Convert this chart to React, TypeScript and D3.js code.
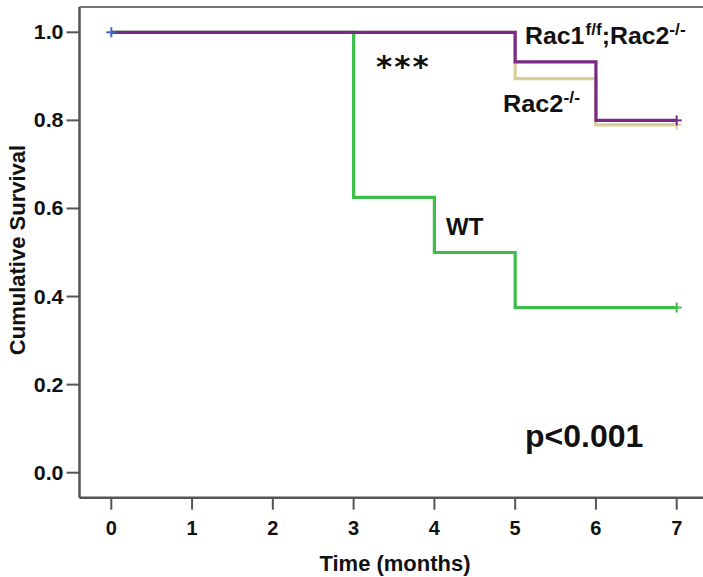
import React from "react";
import * as d3 from "d3";

const xTicks = [0, 1, 2, 3, 4, 5, 6, 7];
const yTicks = [0.0, 0.2, 0.4, 0.6, 0.8, 1.0];

const tanTimes = [0, 5, 6, 7];
const tanSurv = [1.0, 0.895, 0.79, 0.79];
const purpleTimes = [0, 5, 6, 7];
const purpleSurv = [1.0, 0.933, 0.8, 0.8];
const greenTimes = [0, 3, 4, 5, 7];
const greenSurv = [1.0, 0.625, 0.5, 0.375, 0.375];

const W = 703;
const H = 577;

export default function App() {
  const x = d3.scaleLinear().domain([0, 7]).range([111.3, 676.7]);
  const y = d3.scaleLinear().domain([0, 1]).range([472.7, 32.3]);
  const line = d3
    .line<[number, number]>()
    .x((d) => x(d[0]))
    .y((d) => y(d[1]))
    .curve(d3.curveStepAfter);
  const mk = (t: number[], s: number[]) => t.map((v, i) => [v, s[i]] as [number, number]);
  const series = [
    { t: tanTimes, s: tanSurv, c: "#D6CF99" },
    { t: greenTimes, s: greenSurv, c: "#3DBE4B" },
    { t: purpleTimes, s: purpleSurv, c: "#7A2A86" },
  ];
  const font = "'Liberation Sans', Arial, sans-serif";
  const axisColor = "#555";
  const left = 79.5;
  const bottom = 497.7;
  const top = 7;
  const cross = (cx: number, cy: number, c: string) => (
    <g stroke={c} strokeWidth={2}>
      <line x1={cx - 5} x2={cx + 5} y1={cy} y2={cy} />
      <line x1={cx} x2={cx} y1={cy - 5} y2={cy + 5} />
    </g>
  );
  return (
    <svg
      width={W}
      height={H}
      style={{ position: "absolute", left: 0, top: 0, background: "#fff" }}
      fontFamily={font}
    >
      <rect width={W} height={H} fill="#fff" />
      <line x1={left} x2={W} y1={top} y2={top} stroke="#777" strokeWidth={2} />
      <line x1={left} x2={left} y1={top} y2={bottom} stroke={axisColor} strokeWidth={2.5} />
      <line x1={left} x2={W} y1={bottom} y2={bottom} stroke={axisColor} strokeWidth={2.5} />
      {yTicks.map((v) => (
        <g key={"y" + v}>
          <line x1={left - 13} x2={left} y1={y(v)} y2={y(v)} stroke={axisColor} strokeWidth={2} />
          <text
            transform={`translate(${left - 16},${y(v) + 7}) scale(1.07,1)`}
            textAnchor="end"
            fontSize={20}
            fontWeight="bold"
            fill="#111"
          >
            {v.toFixed(1)}
          </text>
        </g>
      ))}
      {xTicks.map((v) => (
        <g key={"x" + v}>
          <line x1={x(v)} x2={x(v)} y1={bottom} y2={bottom + 12} stroke={axisColor} strokeWidth={2} />
          <text x={x(v)} y={bottom + 37} textAnchor="middle" fontSize={20} fontWeight="bold" fill="#111">
            {v}
          </text>
        </g>
      ))}
      <text x={395} y={571} textAnchor="middle" fontSize={22} fontWeight="bold" fill="#111">
        Time (months)
      </text>
      <text
        transform="translate(25,250) rotate(-90)"
        textAnchor="middle"
        fontSize={22}
        fontWeight="bold"
        fill="#111"
      >
        Cumulative Survival
      </text>
      {series.map((s, i) => (
        <path key={i} d={line(mk(s.t, s.s)) || ""} fill="none" stroke={s.c} strokeWidth={3.2} />
      ))}
      {cross(x(7), y(tanSurv[3]), "#D6CF99")}
      {cross(x(7), y(greenSurv[4]), "#3DBE4B")}
      {cross(x(7), y(purpleSurv[3]), "#7A2A86")}
      {cross(x(0), y(1), "#4466CC")}
      <text transform="translate(525,44) scale(1.08,1)" fontSize={23} fontWeight="bold" fill="#111">
        Rac1
        <tspan fontSize={16} dy={-9} dx={1}>f/f</tspan>
        <tspan dy={9}>;Rac2</tspan>
        <tspan fontSize={16} dy={-9}>-/-</tspan>
      </text>
      <text transform="translate(503,112) scale(1.1,1)" fontSize={23} fontWeight="bold" fill="#111">
        Rac2
        <tspan fontSize={16} dy={-9}>-/-</tspan>
      </text>
      <text
        x={376}
        y={77}
        fontSize={31}
        fontWeight="bold"
        fill="#111"
        letterSpacing={2}
        fontFamily="'DejaVu Sans', sans-serif"
      >
        ***
      </text>
      <text x={446} y={235} fontSize={24} fontWeight="bold" fill="#111">
        WT
      </text>
      <text x={525} y={447} fontSize={32} fontWeight="bold" fill="#111">
        p&lt;0.001
      </text>
    </svg>
  );
}
